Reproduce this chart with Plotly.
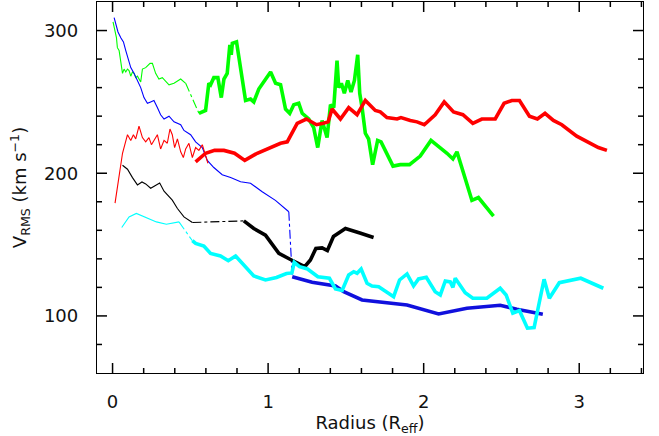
import numpy as np
import plotly.graph_objects as go

# ---------------- data (Radius in R_eff, V_RMS in km/s) ----------------
green_thin_x = [0.003,0.014,0.025,0.031,0.042,0.053,0.064,0.074,0.085,0.096,0.106,0.117,0.128,0.138,0.149,0.160,0.170,0.181,0.192,0.213,0.241,0.256,0.277,0.298,0.320,0.363,0.395,0.438,0.470]
green_thin_y = [306,300,295,288,286,278,270,273,271,273,272,268,271,270,267,268,266,264,273,274,277,277,270,266,267,262,263,266,263]
green_link_x = [0.470,0.555]
green_link_y = [263,242]
green_thick_x = [0.555,0.598,0.619,0.630,0.651,0.677,0.699,0.716,0.737,0.754,0.763,0.770,0.797,0.823,0.855,0.887,0.908,0.940,1.016,1.048,1.080,1.112,1.139,1.165,1.197,1.219,1.261,1.293,1.319,1.347,1.379,1.401,1.422,1.443,1.454,1.471,1.490,1.512,1.533,1.555,1.576,1.589,1.604,1.625,1.646,1.672,1.704,1.726,1.803,1.850,1.909,1.978,2.047,2.150,2.188,2.214,2.310,2.352,2.449]
green_thick_y = [242,244,263,262,267,267,253,266,270,290,283,291,292,274,251,252,250,259,271,263,262,245,242,248,249,242,238,232,218,237,225,248,246,279,260,263,256,265,257,265,283,256,246,228,224,206,223,222,205,206,206,212,223,214,210,215,181,183,170]

blue_thin_x = [0.010,0.021,0.035,0.053,0.070,0.085,0.099,0.117,0.138,0.160,0.181,0.202,0.224,0.245,0.266,0.288,0.309,0.331,0.363,0.395,0.438,0.459,0.502,0.534,0.577,0.609,0.651,0.705,0.759,0.823,0.887,0.962,1.047,1.133]
blue_thin_y = [309,305,299,295,292,286,280,274,270,265,260,253,249,250,251,246,241,238,240,236,234,230,227,222,218,209,204,199,197,194,193,187,181,173]
blue_link_x = [1.133,1.155]
blue_link_y = [173,127.5]
blue_thick_x = [1.155,1.283,1.433,1.486,1.604,1.893,2.096,2.278,2.492,2.599,2.766]
blue_thick_y = [127.5,123.6,121,117,111.2,107.7,101.4,105.4,107.5,104.7,101.2]

red_thin_x = [0.016,0.042,0.064,0.096,0.117,0.134,0.149,0.170,0.192,0.213,0.234,0.250,0.266,0.288,0.309,0.331,0.352,0.369,0.384,0.399,0.417,0.438,0.455,0.470,0.491,0.513,0.534,0.555,0.577,0.598,0.613]
red_thin_y = [179,197,214,227,223,227,224,233,225,222,225,220,223,227,217,223,221,231,227,218,224,215,211,217,221,211,218,216,220,213,207]
red_thick_x = [0.534,0.598,0.656,0.716,0.784,0.850,0.930,1.015,1.080,1.123,1.187,1.246,1.311,1.354,1.386,1.411,1.465,1.518,1.572,1.625,1.689,1.721,1.764,1.829,1.854,1.914,1.957,2.004,2.074,2.132,2.192,2.252,2.316,2.374,2.460,2.517,2.567,2.616,2.680,2.731,2.780,2.834,2.888,2.984,3.048,3.123,3.178]
red_thick_y = [208,214,216,216,214,209,214,218,221,222,235,238,234,235,236,245,238,246,241,251,244,243,239,238,239,237,236,234,241,250,243,241,235,238,238,249,251,251,240,238,242,237,234,226,222,218,216]

black_thin_x = [0.064,0.096,0.128,0.160,0.189,0.213,0.245,0.277,0.303,0.331,0.352,0.384,0.417,0.459,0.513]
black_thin_y = [205.6,202.8,196.9,191.8,193.9,192.5,189.5,191.6,193.2,187.4,184.6,181.1,175.3,169.4,165.5]
black_link_x = [0.513,0.844]
black_link_y = [165.5,166.6]
black_thick_x = [0.844,0.908,0.983,1.069,1.150,1.235,1.272,1.307,1.347,1.381,1.420,1.497,1.590,1.678]
black_thick_y = [166.6,161.3,156.6,143.8,139.2,134.5,139.2,147.3,147.7,145.8,155.7,161.3,158.1,155]

cyan_thin_x = [0.059,0.106,0.153,0.213,0.282,0.346,0.427]
cyan_thin_y = [162,169.4,171.8,169,165.9,164.3,165.9]
cyan_link_x = [0.427,0.513]
cyan_link_y = [165.9,152.7]
cyan_thick_x = [0.513,0.534,0.587,0.630,0.694,0.744,0.791,0.844,0.908,0.983,1.054,1.118,1.153,1.168,1.202,1.253,1.320,1.394,1.433,1.476,1.518,1.550,1.572,1.598,1.636,1.668,1.711,1.807,1.845,1.893,1.935,1.967,2.017,2.074,2.107,2.139,2.171,2.188,2.203,2.267,2.316,2.406,2.492,2.530,2.573,2.616,2.667,2.710,2.774,2.808,2.872,3.010,3.155]
cyan_thick_y = [152.7,150.8,149,143.8,142,138.7,142,135.7,128,125.2,126.9,129.7,130.1,137.6,134.5,132.9,127.5,126.4,118.9,117.8,128.7,131,129.9,132.9,122.9,121,120.5,113.5,125.2,129.4,121,125.9,127.1,117,114.7,124.5,123.8,120,126.4,116.3,112.4,112.4,119.4,114.7,101.9,103.7,91.4,91.8,125.7,112.4,123.3,126.4,119.4]

x_major_step = 1
x_minor_step = 0.2
y_major_step = 100
y_minor_step = 20

GREEN = "#00ff00"
BLUE = "#0000ff"
BLUE_THICK = "#1010dd"
RED = "#ff0000"
BLACK = "#000000"
CYAN = "#00ffff"
THIN = 1.1
THICK = 3.6

X_RANGE = [-0.1, 3.41]
Y_RANGE = [60, 320]
W, H = 659, 436
ML, MR, MT, MB = 97, 16, 2, 63
PW, PH = W - ML - MR, H - MT - MB
MAJOR_LEN, MINOR_LEN = 10, 5

fig = go.Figure()

def add(x, y, color, width, dash="solid"):
    fig.add_trace(go.Scatter(x=x, y=y, mode="lines", showlegend=False,
                             line=dict(color=color, width=width, dash=dash),
                             hoverinfo="skip"))

# thin inner profiles
add(green_thin_x, green_thin_y, GREEN, THIN)
add(green_link_x, green_link_y, GREEN, THIN, "dashdot")
add(blue_thin_x, blue_thin_y, BLUE, THIN)
add(blue_link_x, blue_link_y, BLUE, THIN, "dashdot")
add(red_thin_x, red_thin_y, RED, THIN)
add(black_thin_x, black_thin_y, BLACK, THIN)
add(black_link_x, black_link_y, BLACK, THIN, "dashdot")
add(cyan_thin_x, cyan_thin_y, CYAN, THIN)
add(cyan_link_x, cyan_link_y, CYAN, THIN, "dashdot")
# thick outer profiles
add(green_thick_x, green_thick_y, GREEN, THICK)
add(red_thick_x, red_thick_y, RED, THICK)
add(blue_thick_x, blue_thick_y, BLUE_THICK, THICK)
add(black_thick_x, black_thick_y, BLACK, THICK)
add(cyan_thick_x, cyan_thick_y, CYAN, THICK)

# inside ticks on all four sides, drawn as one line trace on the axis scales
y_per_px = (Y_RANGE[1] - Y_RANGE[0]) / PH
x_per_px = (X_RANGE[1] - X_RANGE[0]) / PW
tx, ty = [], []
for v in np.arange(0, X_RANGE[1] + 1e-9, x_minor_step):
    v = round(float(v), 6)
    major = abs(v / x_major_step - round(v / x_major_step)) < 1e-6
    L = (MAJOR_LEN if major else MINOR_LEN) * y_per_px
    tx += [v, v, None, v, v, None]
    ty += [Y_RANGE[0], Y_RANGE[0] + L, None, Y_RANGE[1], Y_RANGE[1] - L, None]
for v in np.arange(Y_RANGE[0] + y_minor_step, Y_RANGE[1], y_minor_step):
    v = float(v)
    major = abs(v / y_major_step - round(v / y_major_step)) < 1e-6
    L = (MAJOR_LEN if major else MINOR_LEN) * x_per_px
    tx += [X_RANGE[0], X_RANGE[0] + L, None, X_RANGE[1], X_RANGE[1] - L, None]
    ty += [v, v, None, v, v, None]
fig.add_trace(go.Scatter(x=tx, y=ty, mode="lines", showlegend=False, hoverinfo="skip",
                         line=dict(color="black", width=1.5), connectgaps=False))

FONT = "DejaVu Sans"
TXT = "#111111"

fig.update_xaxes(range=X_RANGE, tickmode="linear", tick0=0, dtick=x_major_step,
                 ticks="", showline=True, linecolor="black", linewidth=1.3, mirror=True,
                 showgrid=False, zeroline=False, automargin=False,
                 tickfont=dict(family=FONT, size=18, color=TXT),
                 title=dict(text="Radius (R<sub>eff</sub>)", standoff=2,
                            font=dict(family=FONT, size=18, color=TXT)),
                 ticklabelstandoff=12)
fig.update_yaxes(range=Y_RANGE, tickmode="linear", tick0=0, dtick=y_major_step,
                 ticks="", showline=True, linecolor="black", linewidth=1.3, mirror=True,
                 showgrid=False, zeroline=False, automargin=False,
                 tickfont=dict(family=FONT, size=18, color=TXT),
                 title=dict(text="V<sub>RMS</sub> (km s<sup>−1</sup>)", standoff=12,
                            font=dict(family=FONT, size=18, color=TXT)),
                 ticklabelstandoff=14)

fig.update_layout(width=W, height=H,
                  margin=dict(l=ML, r=MR, t=MT, b=MB),
                  paper_bgcolor="white", plot_bgcolor="white",
                  font=dict(family=FONT, size=18, color=TXT))

fig.write_html("out.html", config={"displayModeBar": False},
               post_script="document.body.style.margin='0px';"
                           "document.body.style.overflow='hidden';")
